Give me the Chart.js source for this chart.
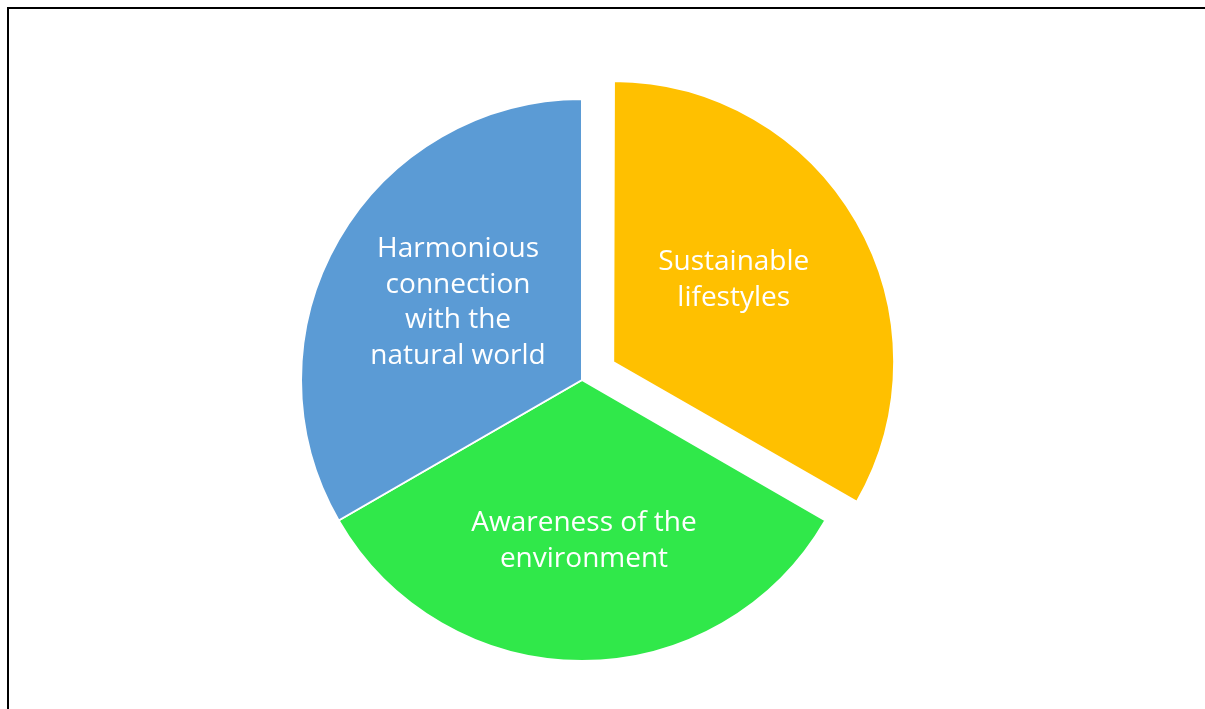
<!DOCTYPE html>
<html>
<head>
<meta charset="utf-8">
<script src="https://cdn.jsdelivr.net/npm/chart.js@4.4.0/dist/chart.umd.min.js"></script>
<style>
  html, body { margin: 0; padding: 0; background: #fff; overflow: hidden; }
  canvas { display: block; }
</style>
</head>
<body>
<canvas id="myChart" width="1205" height="709"></canvas>
<script>
// categories (each line of the label as its own string)
var categorias = [
    ["Sustainable", "lifestyles"],
    ["Awareness of the", "environment"],
    ["Harmonious", "connection", "with the", "natural world"]
];
var valores = [1, 1, 1];
var cores = ['#FFC000', '#30E84A', '#5B9BD5'];

// estilo: deslocamento real da fatia (px), posicao do rotulo (fracao do raio) e ajuste fino
var afastamento = [36, 0, 0];
var raioRotulo = [0.52, 0.57, 0.53];
var ajusteRotulo = [[-6, -9], [2, 1], [5, -3]];

// black frame at top and left, like the screenshot
var moldura = {
    id: 'moldura',
    beforeDraw: function(chart){
        var ctx = chart.ctx;
        ctx.save();
        ctx.fillStyle = '#000';
        ctx.fillRect(7, 7, chart.width - 7, 2);
        ctx.fillRect(7, 7, 2, chart.height - 7);
        ctx.restore();
    }
};

// chart.js v4 aumenta o raio da fatia deslocada; desfaz isso
var corrigeRaio = {
    id: 'corrigeRaio',
    afterDatasetsUpdate: function(chart){
        var meta = chart.getDatasetMeta(0);
        meta.data.forEach(function(arc, i){
            var off = afastamento[i];
            if (off) {
                var fix = 1 - Math.sin(Math.min(Math.PI, arc.circumference));
                arc.outerRadius = arc.outerRadius - off * fix;
            }
        });
    }
};

// white labels inside the slices
var rotulos = {
    id: 'rotulos',
    afterDatasetsDraw: function(chart){
        var ctx = chart.ctx;
        var meta = chart.getDatasetMeta(0);
        var raio = meta.controller.outerRadius;
        ctx.save();
        ctx.fillStyle = '#fff';
        ctx.font = '28px "Open Sans"';
        ctx.textAlign = 'center';
        ctx.textBaseline = 'middle';
        meta.data.forEach(function(arc, i){
            var meio = (arc.startAngle + arc.endAngle) / 2;
            var d = raio * raioRotulo[i] + afastamento[i];
            var cx = arc.x + Math.cos(meio) * d + ajusteRotulo[i][0];
            var cy = arc.y + Math.sin(meio) * d + ajusteRotulo[i][1];
            var linhas = categorias[i];
            var alt = 35.5;
            var y0 = cy - (linhas.length - 1) * alt / 2;
            linhas.forEach(function(t, k){
                ctx.fillText(t, cx, y0 + k * alt);
            });
        });
        ctx.restore();
    }
};

const ctx = document.getElementById('myChart').getContext('2d');
const myChart = new Chart(ctx, {
    type: 'pie',
    data: {
        labels: categorias,
        datasets: [{
            data: valores,
            backgroundColor: cores,
            borderColor: '#fff',
            borderWidth: 2,
            offset: afastamento.map(function(v){ return v * 4; })
        }]
    },
    options: {
        responsive: false,
        animation: false,
        radius: 281,
        layout: {
            padding: { left: 0, right: 41, top: 51, bottom: 0 }
        },
        plugins: {
            legend: { display: false },
            tooltip: { enabled: false }
        }
    },
    plugins: [moldura, corrigeRaio, rotulos]
});
</script>
</body>
</html>
